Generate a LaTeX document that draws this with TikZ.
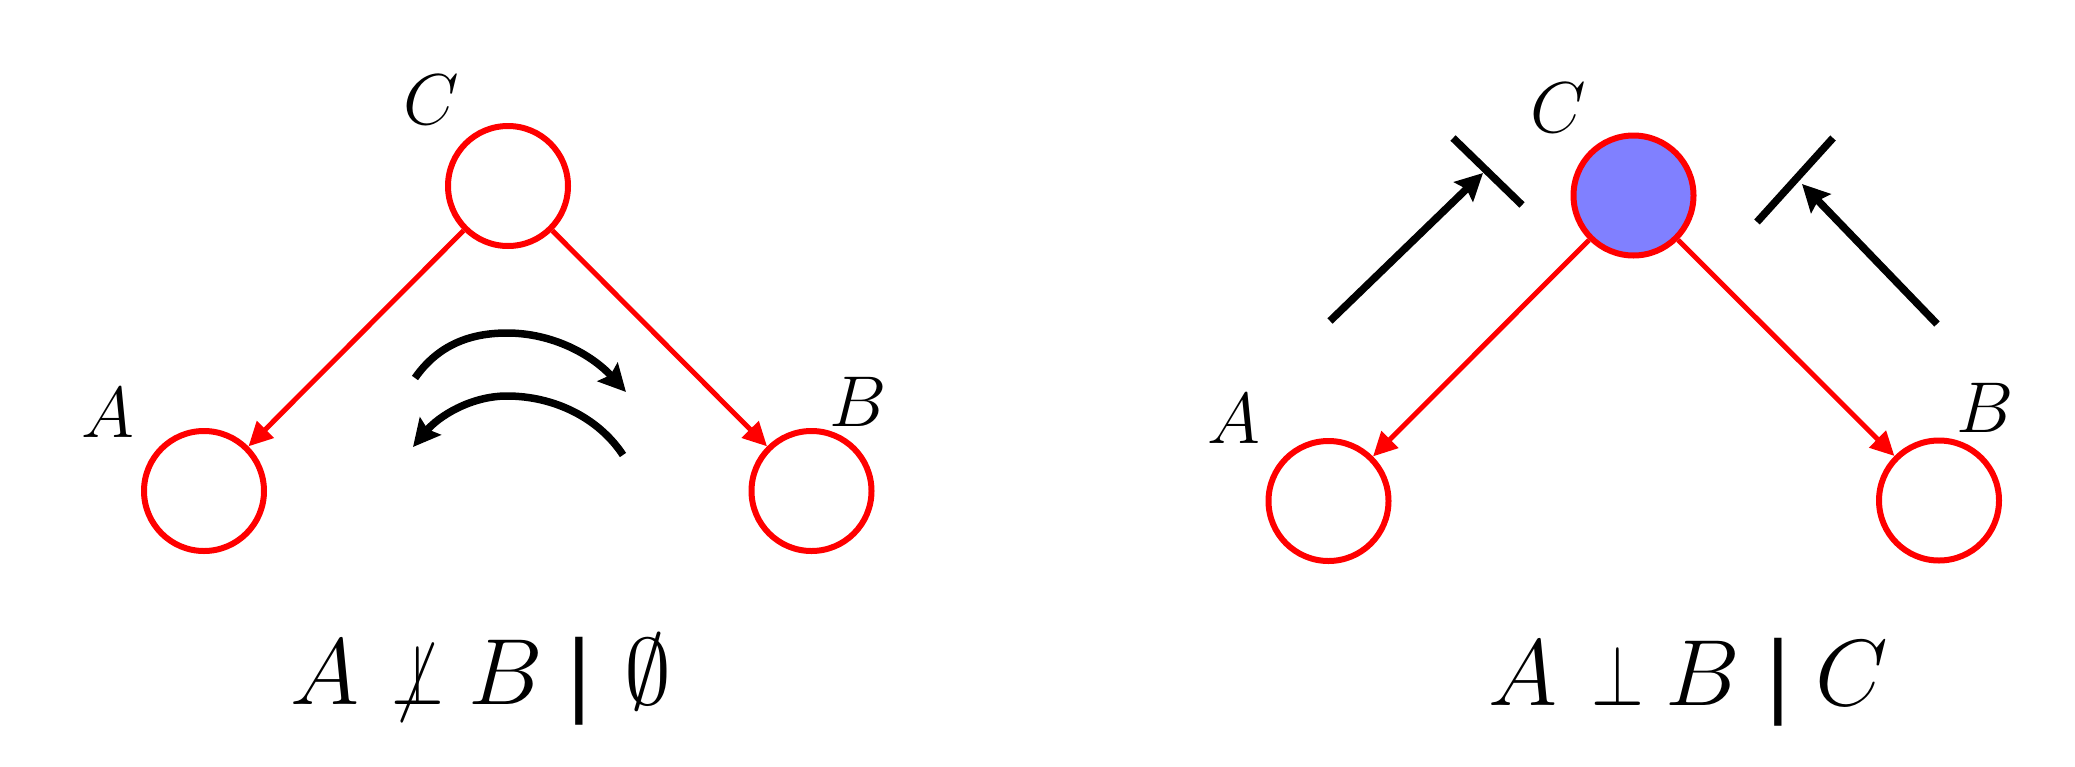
\RequirePackage{fix-cm}
\documentclass[tikz,border=0pt]{standalone}
\usepackage{fontspec}
\newfontfamily\barfont{DejaVu Sans}
\usetikzlibrary{arrows.meta}
\definecolor{obsblue}{RGB}{128,128,255}
\begin{document}
\begin{tikzpicture}[x=1pt,y=-1pt,
  var/.style={circle,draw=red,line width=6pt,minimum size=120pt,inner sep=0pt},
  obs/.style={var,fill=obsblue},
  edge/.style={draw=red,line width=5pt,-{Triangle[length=24pt,width=23pt]}},
  flow/.style={draw=black,line width=7.5pt,-{Stealth[length=27pt,width=27pt,inset=4pt]}},
  blockbar/.style={draw=black,line width=7.5pt},
  lbl/.style={font=\fontsize{72}{80}\selectfont,inner sep=0pt,anchor=base},
  fml/.style={font=\fontsize{94}{100}\selectfont,inner sep=0pt,anchor=base},
  barsym/.style={font=\barfont\fontsize{88}{96}\selectfont,inner sep=0pt,anchor=base}]
\useasboundingbox (0,0) rectangle (2075,766);

% ---------- left diagram ----------
\node[var] (lC) at (508,186) {};
\node[var] (lA) at (204,491) {};
\node[var] (lB) at (811.5,491) {};
\node[lbl] (lCl) at (431,124) {$C$};
\node[lbl] (lAl) at (108,437) {$A$};
\node[lbl] (lBl) at (858,426) {$B$};
\draw[edge] (lC) -- (lA);
\draw[edge] (lC) -- (lB);

\coordinate (u0) at (415,378);
\coordinate (u1) at (626,392);
\draw[flow] (u0) .. controls (438,345) and (470,333) .. (507,333)
                 .. controls (553,333) and (592,355) .. (u1);
\coordinate (w0) at (623,455);
\coordinate (w1) at (413,447);
\draw[flow] (w0) .. controls (598,417) and (553,396) .. (507,396)
                 .. controls (470,396) and (438,417) .. (w1);

\node[fml] (lfA) at (325,704) {$A$};
\node[fml] (lfP) at (418,704) {\scalebox{0.72}[0.92]{$\not\perp$}};
\node[fml] (lfB) at (506,704) {$B$};
\node[barsym] (lfbar) at (579,704) {|};
\node[fml] (lfE) at (648,704) {$\emptyset$};

% ---------- right diagram ----------
\node[obs] (rC) at (1633.5,195.5) {};
\node[var] (rA) at (1328.5,501) {};
\node[var] (rB) at (1939,500.5) {};
\node[lbl] (rCl) at (1558,132) {$C$};
\node[lbl] (rAl) at (1234,443) {$A$};
\node[lbl] (rBl) at (1985,432) {$B$};
\draw[edge] (rC) -- (rA);
\draw[edge] (rC) -- (rB);

\coordinate (p0) at (1330,321);
\coordinate (p1) at (1483,173);
\coordinate (pb1) at (1453,138);
\coordinate (pb2) at (1522,205);
\draw[flow] (p0) -- (p1);
\draw[blockbar] (pb1) -- (pb2);

\coordinate (q0) at (1937,324);
\coordinate (q1) at (1802,184);
\coordinate (qb1) at (1833,138);
\coordinate (qb2) at (1757,222);
\draw[flow] (q0) -- (q1);
\draw[blockbar] (qb1) -- (qb2);

\node[fml] (rfA) at (1523,705) {$A$};
\node[fml] (rfP) at (1618,705) {\scalebox{0.72}[0.92]{$\perp$}};
\node[fml] (rfB) at (1703,705) {$B$};
\node[barsym] (rfbar) at (1778,705) {|};
\node[fml] (rfC) at (1852,705) {$C$};
\end{tikzpicture}
\end{document}
